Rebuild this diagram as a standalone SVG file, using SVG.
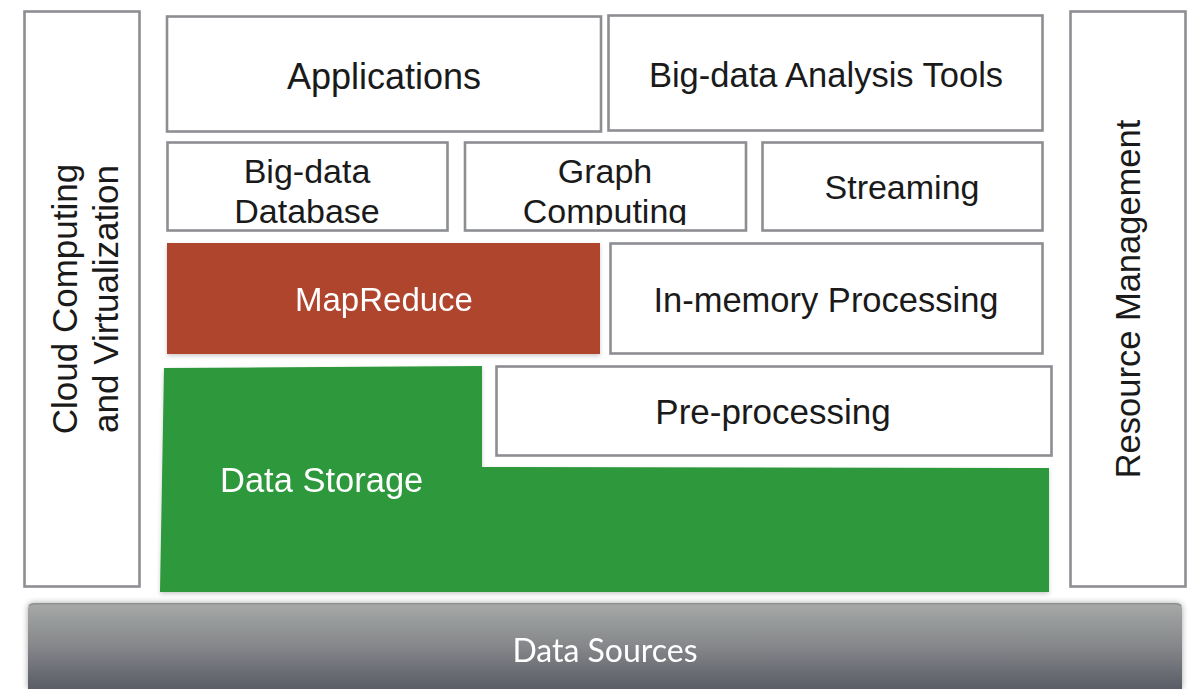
<svg xmlns="http://www.w3.org/2000/svg" width="1195" height="689" viewBox="0 0 1195 689">
  <style>
    .box { fill: #ffffff; stroke: #8c8e92; stroke-width: 2.6; }
    .lbl { font-family: "Liberation Sans", Arial, sans-serif; font-size: 34px; fill: #1a1a1a; text-anchor: middle; }
    .wht { fill: #ffffff; }
  </style>
  <defs>
    <linearGradient id="srcGrad" x1="0" y1="0" x2="0" y2="1">
      <stop offset="0" stop-color="#a6a9a7"/>
      <stop offset="0.5" stop-color="#85878a"/>
      <stop offset="1" stop-color="#5a5c66"/>
    </linearGradient>
    <filter id="soft" x="-5%" y="-20%" width="110%" height="140%">
      <feGaussianBlur in="SourceAlpha" stdDeviation="3"/>
      <feOffset dy="0"/>
      <feComponentTransfer><feFuncA type="linear" slope="0.35"/></feComponentTransfer>
      <feMerge><feMergeNode/><feMergeNode in="SourceGraphic"/></feMerge>
    </filter>
    <filter id="lift" x="-5%" y="-10%" width="110%" height="125%">
      <feGaussianBlur in="SourceAlpha" stdDeviation="2"/>
      <feOffset dy="2"/>
      <feComponentTransfer><feFuncA type="linear" slope="0.2"/></feComponentTransfer>
      <feMerge><feMergeNode/><feMergeNode in="SourceGraphic"/></feMerge>
    </filter>
    <clipPath id="clipDb"><rect x="167" y="142" width="280" height="83"/></clipPath>
    <clipPath id="clipGraph"><rect x="465" y="142" width="281" height="83"/></clipPath>
  </defs>

  <!-- side pillars -->
  <g id="cloud">
    <rect class="box" x="24.5" y="11.5" width="115" height="575"/>
    <text class="lbl" style="font-size:35px" transform="translate(77,299) rotate(-90)">Cloud Computing</text>
    <text class="lbl" style="font-size:35px" transform="translate(118,299) rotate(-90)">and Virtualization</text>
  </g>
  <g id="resource">
    <rect class="box" x="1070.5" y="11.5" width="115" height="575"/>
    <text class="lbl" style="font-size:34.5px" transform="translate(1140,299) rotate(-90)">Resource Management</text>
  </g>

  <!-- top row -->
  <g id="applications">
    <rect class="box" x="167" y="16.5" width="434" height="115"/>
    <text class="lbl" x="384" y="89" style="font-size:36px">Applications</text>
  </g>
  <g id="analysis">
    <rect class="box" x="608.5" y="15.5" width="434" height="115"/>
    <text class="lbl" x="826" y="87" style="font-size:34.5px">Big-data Analysis Tools</text>
  </g>

  <!-- second row -->
  <g id="database">
    <rect class="box" x="167.5" y="142.5" width="280" height="88"/>
    <g clip-path="url(#clipDb)">
      <text class="lbl" x="307" y="183">Big-data</text>
      <text class="lbl" x="307" y="223">Database</text>
    </g>
  </g>
  <g id="graph">
    <rect class="box" x="465" y="142.5" width="281" height="88"/>
    <g clip-path="url(#clipGraph)">
      <text class="lbl" x="605" y="183">Graph</text>
      <text class="lbl" x="605" y="223">Computing</text>
    </g>
  </g>
  <g id="streaming">
    <rect class="box" x="762.5" y="142.5" width="280" height="88"/>
    <text class="lbl" x="902" y="199">Streaming</text>
  </g>

  <!-- processing row -->
  <g id="mapreduce" filter="url(#lift)">
    <rect x="167" y="243" width="433" height="111" fill="#b0442f"/>
    <text class="lbl wht" x="384" y="311" style="font-size:33px">MapReduce</text>
  </g>
  <g id="inmemory">
    <rect class="box" x="610.5" y="243.5" width="432" height="110"/>
    <text class="lbl" x="826" y="312" style="font-size:34.5px">In-memory Processing</text>
  </g>

  <!-- storage layer -->
  <g id="storage" filter="url(#lift)">
    <path d="M164,368 L482,366 L482,467 L1049,468 L1049,592 L160,592 Z" fill="#2d983c"/>
    <text class="lbl wht" x="220" y="492" style="font-size:34.5px;text-anchor:start">Data Storage</text>
  </g>
  <g id="preprocessing">
    <rect class="box" x="496.5" y="366.5" width="555" height="89"/>
    <text class="lbl" x="773" y="424" style="font-size:35px">Pre-processing</text>
  </g>

  <!-- base layer -->
  <g id="sources" filter="url(#soft)">
    <path d="M28,689 L28,609 Q28,603 34,603 L1176,603 Q1182,603 1182,609 L1182,689 Z" fill="url(#srcGrad)"/>
    <path d="M29,606 Q30,603.8 35,603.8 L1175,603.8 Q1180,603.8 1181,606" fill="none" stroke="#8e9090" stroke-width="1.5"/>
    <text class="lbl wht" x="605" y="662" style="font-size:32px;font-family:Lato,'Liberation Sans',sans-serif">Data Sources</text>
  </g>

  <!-- no connectors in this layered stack -->
  <g id="connectors"/>
</svg>
